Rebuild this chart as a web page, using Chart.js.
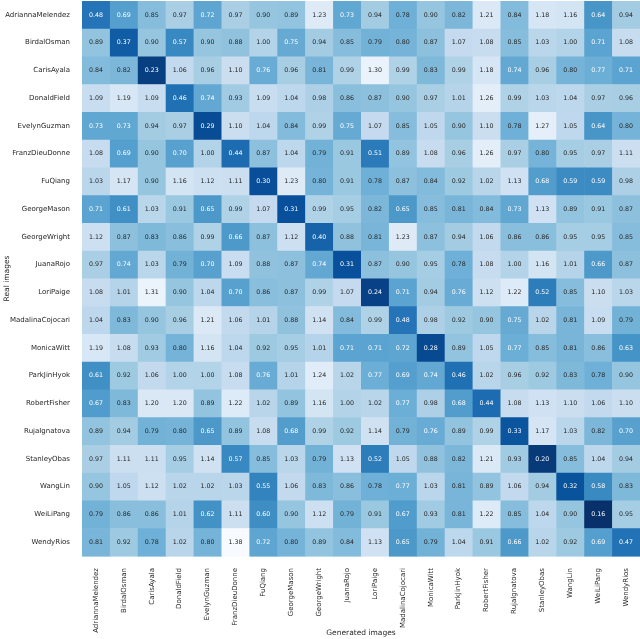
<!DOCTYPE html>
<html>
<head>
<meta charset="utf-8">
<script src="https://cdn.jsdelivr.net/npm/chart.js@4"></script>
<style>html,body{margin:0;padding:0;background:#fff}</style>
</head>
<body>
<div style="width:640px;height:639px"><canvas id="myChart" width="640" height="639"></canvas></div>
<script>
// people on both axes (rows = real images, columns = generated images)
const people = ["AdriannaMelendez", "BirdalOsman", "CarisAyala", "DonaldField", "EvelynGuzman",
  "FranzDieuDonne", "FuQiang", "GeorgeMason", "GeorgeWright", "JuanaRojo", "LoriPaige",
  "MadalinaCojocari", "MonicaWitt", "ParkJinHyok", "RobertFisher", "RujaIgnatova",
  "StanleyObas", "WangLin", "WeiLiPang", "WendyRios"];

// one row per real image
const adriannaMelendez = [0.48, 0.69, 0.85, 0.97, 0.72, 0.97, 0.90, 0.89, 1.23, 0.73, 0.94, 0.78, 0.90, 0.82, 1.21, 0.84, 1.18, 1.16, 0.64, 0.94];
const birdalOsman = [0.89, 0.37, 0.90, 0.57, 0.90, 0.88, 1.00, 0.75, 0.94, 0.85, 0.79, 0.80, 0.87, 1.07, 1.08, 0.85, 1.03, 1.00, 0.71, 1.08];
const carisAyala = [0.84, 0.82, 0.23, 1.06, 0.96, 1.10, 0.76, 0.96, 0.81, 0.99, 1.30, 0.99, 0.83, 0.99, 1.18, 0.74, 0.96, 0.80, 0.77, 0.71];
const donaldField = [1.09, 1.19, 1.09, 0.46, 0.74, 0.93, 1.09, 1.04, 0.98, 0.86, 0.87, 0.90, 0.97, 1.01, 1.26, 0.99, 1.03, 1.04, 0.97, 0.96];
const evelynGuzman = [0.73, 0.73, 0.94, 0.97, 0.29, 1.10, 1.04, 0.84, 0.99, 0.75, 1.07, 0.85, 1.05, 0.90, 1.10, 0.78, 1.27, 1.05, 0.64, 0.80];
const franzDieuDonne = [1.08, 0.69, 0.90, 0.70, 1.00, 0.44, 0.87, 1.04, 0.79, 0.91, 0.51, 0.89, 1.08, 0.96, 1.26, 0.97, 0.80, 0.95, 0.97, 1.11];
const fuQiang = [1.03, 1.17, 0.90, 1.16, 1.12, 1.11, 0.30, 1.23, 0.80, 0.91, 0.78, 0.87, 0.84, 0.92, 1.02, 1.13, 0.68, 0.59, 0.59, 0.98];
const georgeMason = [0.71, 0.61, 1.03, 0.91, 0.65, 0.99, 1.07, 0.31, 0.99, 0.95, 0.82, 0.65, 0.85, 0.81, 0.84, 0.73, 1.13, 0.89, 0.91, 0.87];
const georgeWright = [1.12, 0.87, 0.83, 0.86, 0.99, 0.66, 0.87, 1.12, 0.40, 0.88, 0.81, 1.23, 0.87, 0.94, 1.06, 0.86, 0.86, 0.95, 0.95, 0.85];
const juanaRojo = [0.97, 0.74, 1.03, 0.79, 0.70, 1.09, 0.88, 0.87, 0.74, 0.31, 0.87, 0.90, 0.95, 0.78, 1.08, 1.00, 1.16, 1.01, 0.66, 0.87];
const loriPaige = [1.08, 1.01, 1.31, 0.90, 1.04, 0.70, 0.86, 0.87, 0.99, 1.07, 0.24, 0.71, 0.94, 0.76, 1.12, 1.22, 0.52, 0.85, 1.10, 1.03];
const madalinaCojocari = [1.04, 0.83, 0.90, 0.96, 1.21, 1.06, 1.01, 0.88, 1.14, 0.84, 0.99, 0.48, 0.98, 0.92, 0.90, 0.75, 1.02, 0.81, 1.09, 0.79];
const monicaWitt = [1.19, 1.08, 0.93, 0.80, 1.16, 1.04, 0.92, 0.95, 1.01, 0.71, 0.71, 0.72, 0.28, 0.89, 1.05, 0.77, 0.85, 0.81, 0.86, 0.63];
const parkJinHyok = [0.61, 0.92, 1.06, 1.00, 1.00, 1.08, 0.76, 1.01, 1.24, 1.02, 0.77, 0.69, 0.74, 0.46, 1.02, 0.96, 0.92, 0.83, 0.78, 0.90];
const robertFisher = [0.67, 0.83, 1.20, 1.20, 0.89, 1.22, 1.02, 0.89, 1.16, 1.00, 1.02, 0.77, 0.98, 0.68, 0.44, 1.08, 1.13, 1.10, 1.06, 1.10];
const rujaIgnatova = [0.89, 0.94, 0.79, 0.80, 0.65, 0.89, 1.08, 0.68, 0.99, 0.92, 1.14, 0.79, 0.76, 0.89, 0.99, 0.33, 1.17, 1.03, 0.82, 0.70];
const stanleyObas = [0.97, 1.11, 1.11, 0.95, 1.14, 0.57, 0.85, 1.03, 0.79, 1.13, 0.52, 1.05, 0.88, 0.82, 1.21, 0.93, 0.20, 0.85, 1.04, 0.94];
const wangLin = [0.90, 1.05, 1.12, 1.02, 1.02, 1.03, 0.55, 1.06, 0.83, 0.86, 0.78, 0.77, 1.03, 0.81, 0.89, 1.06, 0.94, 0.32, 0.58, 0.83];
const weiLiPang = [0.79, 0.86, 0.86, 1.01, 0.62, 1.11, 0.60, 0.90, 1.12, 0.79, 0.91, 0.67, 0.93, 0.81, 1.22, 0.85, 1.04, 0.90, 0.16, 0.95];
const wendyRios = [0.81, 0.92, 0.78, 1.02, 0.80, 1.38, 0.72, 0.80, 0.89, 0.84, 1.13, 0.65, 0.79, 1.04, 0.91, 0.66, 1.02, 0.92, 0.69, 0.47];

const rows = [adriannaMelendez, birdalOsman, carisAyala, donaldField, evelynGuzman, franzDieuDonne,
  fuQiang, georgeMason, georgeWright, juanaRojo, loriPaige, madalinaCojocari, monicaWitt,
  parkJinHyok, robertFisher, rujaIgnatova, stanleyObas, wangLin, weiLiPang, wendyRios];

// matplotlib "Blues", used reversed (low distance = dark)
const bluesStops = ["#f7fbff", "#deebf7", "#c6dbef", "#9ecae1", "#6baed6", "#4292c6", "#2171b5", "#08519c", "#08306b"];

const allValues = rows.flat();
const vmin = Math.min(...allValues);
const vmax = Math.max(...allValues);

function hexToRgb(h) {
  return [parseInt(h.slice(1, 3), 16), parseInt(h.slice(3, 5), 16), parseInt(h.slice(5, 7), 16)];
}

function bluesR(v) {
  let t = (vmax - v) / (vmax - vmin);
  t = Math.max(0, Math.min(1, t)) * (bluesStops.length - 1);
  const i = Math.min(Math.floor(t), bluesStops.length - 2);
  const f = t - i;
  const a = hexToRgb(bluesStops[i]), b = hexToRgb(bluesStops[i + 1]);
  return a.map((c, k) => Math.round(c + (b[k] - c) * f));
}

function luminance(rgb) {
  const lin = rgb.map((c) => {
    c = c / 255;
    return c <= 0.03928 ? c / 12.92 : Math.pow((c + 0.055) / 1.055, 2.4);
  });
  return 0.2126 * lin[0] + 0.7152 * lin[1] + 0.0722 * lin[2];
}

const cells = [];
rows.forEach((row, r) => {
  row.forEach((v, c) => {
    cells.push({ x: people[c], y: people[r], v: v });
  });
});

// fills each cell around the point the scales place it on, then writes the value
const cellPlugin = {
  id: "cells",
  beforeDatasetsDraw(chart) {
    const ctx = chart.ctx;
    const xs = chart.scales.x;
    const ys = chart.scales.y;
    const w = xs.width / people.length;
    const h = ys.height / people.length;
    const meta = chart.getDatasetMeta(0);
    ctx.save();
    ctx.font = "6.3px 'DejaVu Sans'";
    ctx.textAlign = "center";
    ctx.textBaseline = "middle";
    meta.data.forEach((pt, i) => {
      const v = cells[i].v;
      const rgb = bluesR(v);
      ctx.fillStyle = "rgb(" + rgb.join(",") + ")";
      ctx.fillRect(pt.x - w / 2, pt.y - h / 2, w + 0.6, h + 0.6);
      ctx.fillStyle = luminance(rgb) > 0.385 ? "#262626" : "#ffffff";
      ctx.fillText(v.toFixed(2), pt.x, pt.y);
    });
    ctx.restore();
  },
};

Chart.defaults.font.family = "'DejaVu Sans'";
Chart.defaults.font.size = 7;
Chart.defaults.color = "#262626";

new Chart(document.getElementById("myChart").getContext("2d"), {
  type: "scatter",
  data: {
    datasets: [{ data: cells, pointRadius: 0, pointHoverRadius: 0 }],
  },
  options: {
    responsive: false,
    animation: false,
    events: [],
    layout: { padding: { top: 1, right: 0, left: 0, bottom: 0 } },
    plugins: { legend: { display: false }, tooltip: { enabled: false } },
    scales: {
      x: {
        type: "category",
        labels: people,
        offset: true,
        grid: { display: false },
        border: { display: false },
        ticks: { autoSkip: false, minRotation: 90, maxRotation: 90, padding: 4 },
        title: { display: true, text: "Generated images", font: { size: 7.5 }, padding: { top: 0, bottom: 1 } },
        afterFit: (scale) => {
          scale.height = 83;
          scale.paddingLeft = 0;
          scale.paddingRight = 0;
        },
      },
      y: {
        type: "category",
        labels: people,
        offset: true,
        grid: { display: false },
        border: { display: false },
        ticks: { autoSkip: false, padding: 4 },
        title: { display: true, text: "Real images", font: { size: 7.5 }, padding: { top: 3, bottom: 0 } },
        afterFit: (scale) => {
          scale.width = 82;
          scale.paddingTop = 0;
          scale.paddingBottom = 0;
        },
      },
    },
  },
  plugins: [cellPlugin],
});
</script>
</body>
</html>
